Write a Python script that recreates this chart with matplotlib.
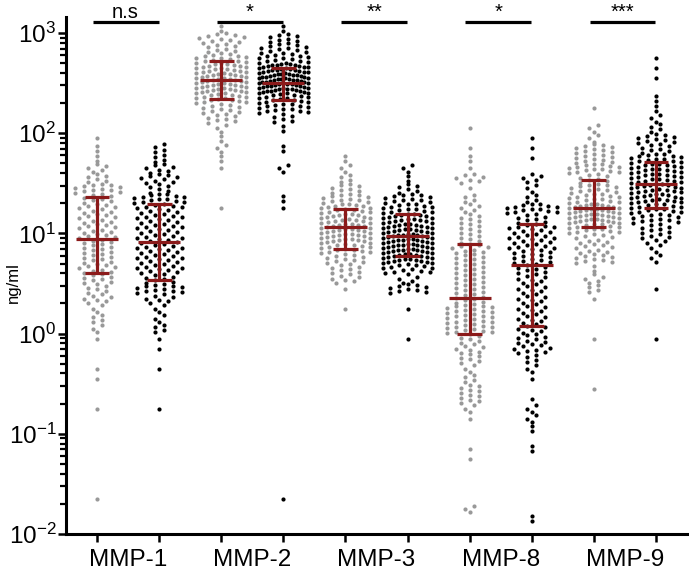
import numpy as np
import matplotlib
matplotlib.use("Agg")
import matplotlib.pyplot as plt
from matplotlib.ticker import LogLocator, FixedLocator, NullFormatter, FixedFormatter
import matplotlib.transforms as mtransforms

plt.rcParams['font.family'] = ['Liberation Sans', 'DejaVu Sans']
plt.rcParams['mathtext.fontset'] = 'custom'
plt.rcParams['mathtext.rm'] = 'Liberation Sans'
plt.rcParams['mathtext.it'] = 'Liberation Sans:italic'
plt.rcParams['mathtext.bf'] = 'Liberation Sans:bold'

# ---------------- data ----------------
categories = ['MMP-1', 'MMP-2', 'MMP-3', 'MMP-8', 'MMP-9']
significance = ['n.s', '*', '**', '*', '***']

# Number of samples per 0.1-decade bin of log10(ng/ml); bin lower edges + counts
mmp1_grey_bins = [-1.7, -0.8, -0.5, -0.4, -0.1, 0.0, 0.1, 0.2, 0.3, 0.4, 0.5, 0.6, 0.7, 0.8, 0.9, 1.0, 1.1, 1.2, 1.3, 1.4, 1.5, 1.6, 1.7, 1.8, 1.9]
mmp1_grey_counts = [1, 1, 1, 1, 1, 3, 4, 3, 7, 6, 8, 9, 8, 8, 9, 9, 9, 9, 8, 12, 6, 5, 2, 2, 1]
mmp1_black_bins = [-0.8, -0.4, -0.2, -0.1, 0.0, 0.1, 0.2, 0.3, 0.4, 0.5, 0.6, 0.7, 0.8, 0.9, 1.0, 1.1, 1.2, 1.3, 1.4, 1.5, 1.6, 1.7, 1.8]
mmp1_black_counts = [1, 1, 1, 1, 4, 3, 3, 7, 12, 8, 11, 11, 11, 11, 11, 11, 11, 14, 6, 9, 7, 4, 4]

mmp2_grey_bins = [1.2, 1.6, 1.7, 1.8, 1.9, 2.0, 2.1, 2.2, 2.3, 2.4, 2.5, 2.6, 2.7, 2.8, 2.9, 3.0]
mmp2_grey_counts = [1, 1, 2, 3, 2, 3, 8, 10, 16, 20, 20, 18, 14, 8, 11, 2]
mmp2_black_bins = [-1.7, 1.2, 1.3, 1.6, 1.8, 2.0, 2.1, 2.2, 2.3, 2.4, 2.5, 2.6, 2.7, 2.8, 2.9, 3.0]
mmp2_black_counts = [1, 1, 2, 3, 2, 2, 6, 14, 16, 26, 28, 24, 14, 12, 8, 2]

mmp3_grey_bins = [0.2, 0.4, 0.5, 0.6, 0.7, 0.8, 0.9, 1.0, 1.1, 1.2, 1.3, 1.4, 1.5, 1.6, 1.7]
mmp3_grey_counts = [1, 1, 7, 8, 10, 14, 18, 18, 17, 15, 12, 8, 4, 3, 2]
mmp3_black_bins = [-0.1, 0.2, 0.4, 0.5, 0.6, 0.7, 0.8, 0.9, 1.0, 1.1, 1.2, 1.3, 1.4, 1.5, 1.6]
mmp3_black_counts = [1, 1, 10, 5, 13, 20, 22, 22, 20, 18, 14, 12, 6, 2, 3]

mmp8_grey_bins = [-1.8, -1.3, -1.2, -0.9, -0.8, -0.7, -0.6, -0.5, -0.4, -0.3, -0.2, -0.1, 0.0, 0.1, 0.2, 0.3, 0.4, 0.5, 0.6, 0.7, 0.8, 0.9, 1.0, 1.1, 1.2, 1.3, 1.4, 1.5, 1.6, 1.7, 1.8, 2.0]
mmp8_grey_counts = [3, 1, 1, 1, 3, 6, 6, 4, 3, 6, 7, 6, 12, 12, 12, 8, 8, 8, 8, 8, 9, 6, 6, 6, 5, 4, 1, 7, 1, 2, 1, 1]
mmp8_black_bins = [-1.9, -1.2, -1.0, -0.9, -0.8, -0.7, -0.5, -0.4, -0.3, -0.2, -0.1, 0.0, 0.1, 0.2, 0.3, 0.4, 0.5, 0.6, 0.7, 0.8, 0.9, 1.0, 1.1, 1.2, 1.3, 1.4, 1.5, 1.7, 1.8, 1.9]
mmp8_black_counts = [2, 2, 2, 3, 3, 1, 1, 3, 4, 9, 8, 7, 7, 7, 7, 7, 7, 8, 10, 11, 11, 11, 8, 14, 4, 3, 5, 1, 1, 1]

mmp9_grey_bins = [-0.6, -0.1, 0.3, 0.4, 0.5, 0.6, 0.7, 0.8, 0.9, 1.0, 1.1, 1.2, 1.3, 1.4, 1.5, 1.6, 1.7, 1.8, 1.9, 2.0, 2.2]
mmp9_grey_counts = [1, 1, 1, 4, 5, 2, 10, 9, 9, 14, 20, 20, 14, 12, 8, 14, 10, 10, 3, 3, 1]
mmp9_black_bins = [-0.1, 0.4, 0.7, 0.8, 0.9, 1.0, 1.1, 1.2, 1.3, 1.4, 1.5, 1.6, 1.7, 1.8, 1.9, 2.0, 2.1, 2.2, 2.3, 2.5, 2.6, 2.7]
mmp9_black_counts = [1, 1, 3, 3, 7, 8, 12, 14, 17, 17, 16, 16, 14, 8, 10, 4, 3, 2, 2, 1, 1, 1]

# median and interquartile range (ng/ml), grey then black for each MMP
medians = [8.8, 8.2, 340, 320, 11.5, 9.4, 2.26, 4.85, 17.8, 31]
q1s = [4.0, 3.4, 220, 215, 7.0, 5.9, 1.0, 1.2, 11.5, 18]
q3s = [23, 19.5, 525, 450, 17.5, 15.5, 7.8, 12.3, 34, 52]

swarm_bins = [mmp1_grey_bins, mmp1_black_bins, mmp2_grey_bins, mmp2_black_bins,
              mmp3_grey_bins, mmp3_black_bins, mmp8_grey_bins, mmp8_black_bins,
              mmp9_grey_bins, mmp9_black_bins]
swarm_counts = [mmp1_grey_counts, mmp1_black_counts, mmp2_grey_counts, mmp2_black_counts,
                mmp3_grey_counts, mmp3_black_counts, mmp8_grey_counts, mmp8_black_counts,
                mmp9_grey_counts, mmp9_black_counts]

# ---------------- helpers ----------------
BIN_W = 0.1


def expand(bins, counts):
    vals = []
    for lo, n in zip(bins, counts):
        for i in range(n):
            vals.append(lo + (i + 0.5) * BIN_W / n)
    return np.array(vals)


def swarm_offsets(logv, row_h=0.05, step=0.145, max_half=0.40):
    rows = np.floor((logv + 1e-9) / row_h).astype(int)
    off = np.zeros_like(logv)
    for r in np.unique(rows):
        idx = np.where(rows == r)[0]
        idx = idx[np.argsort(-logv[idx])]
        n = len(idx)
        s = step if n <= 1 else min(step, 2 * max_half / (n - 1))
        if n % 2 == 1:
            slots = [0] + [v for k in range(1, n // 2 + 1) for v in (k, -k)]
        else:
            slots = [v for k in range(n // 2) for v in (k + 0.5, -(k + 0.5))]
        off[idx] = np.array(slots[:n]) * s
    return off


# ---------------- figure ----------------
fig = plt.figure(figsize=(6.89, 5.72), dpi=100)
ax = fig.add_axes([66 / 689, 38 / 572, 621 / 689, 517 / 572])

red = '#8B1A1A'
colors = ['#999999', '#000000'] * 5

for p in range(10):
    lv = expand(swarm_bins[p], swarm_counts[p])
    xo = swarm_offsets(lv)
    ax.scatter(p + xo, 10 ** lv, s=9, c=colors[p], linewidths=0, zorder=2)
    ax.plot([p - 0.34, p + 0.34], [medians[p]] * 2, color=red, lw=2.3, solid_capstyle='butt', zorder=3)
    ax.plot([p, p], [q1s[p], q3s[p]], color=red, lw=2.3, solid_capstyle='butt', zorder=3)
    for q in (q1s[p], q3s[p]):
        ax.plot([p - 0.2, p + 0.2], [q, q], color=red, lw=2.3, solid_capstyle='butt', zorder=3)

ax.set_yscale('log')
ax.set_ylim(1e-2, 10 ** 3.16)
ax.set_xlim(-0.5, 9.5)

for s in ['top', 'right']:
    ax.spines[s].set_visible(False)
for s in ['left', 'bottom']:
    ax.spines[s].set_linewidth(2.2)

ax.yaxis.set_major_locator(LogLocator(base=10, numticks=10))
ax.yaxis.set_minor_locator(LogLocator(base=10, subs=np.arange(2, 10), numticks=20))
ax.yaxis.set_minor_formatter(NullFormatter())
ax.tick_params(axis='y', which='major', length=6, width=1.8, labelsize=17.5, pad=1)
ax.tick_params(axis='y', which='minor', length=4, width=1.6)

ax.xaxis.set_major_locator(FixedLocator(range(10)))
ax.xaxis.set_major_formatter(NullFormatter())
ax.xaxis.set_minor_locator(FixedLocator([2 * k + 0.5 for k in range(5)]))
ax.xaxis.set_minor_formatter(FixedFormatter(categories))
ax.tick_params(axis='x', which='major', length=6, width=1.8)
ax.tick_params(axis='x', which='minor', length=0, labelsize=17.5, pad=11)

ax.set_ylabel('ng/ml', fontsize=12)
ax.yaxis.set_label_coords(-0.072, 0.487)

trans = mtransforms.blended_transform_factory(ax.transData, ax.transAxes)
for k, lab in enumerate(significance):
    x0, x1 = 2 * k - 0.07, 2 * k + 0.99
    ax.plot([x0, x1], [0.990, 0.990], color='black', lw=2.3, solid_capstyle='butt',
            transform=trans, clip_on=False)
    ax.text((x0 + x1) / 2, 0.9975, lab, transform=trans, ha='center', va='baseline',
            fontsize=14.5, clip_on=False)

fig.savefig('out.png', dpi=100)
